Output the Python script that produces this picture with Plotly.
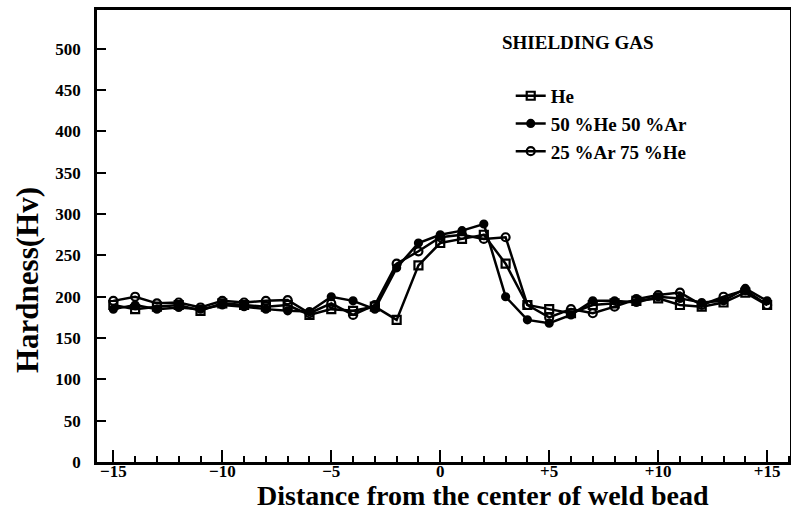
import plotly.graph_objects as go

distance = list(range(-15, 16))

hv_he = [190, 185, 188, 190, 183, 192, 190, 188, 190, 178, 185, 183, 188, 172, 238,
         265, 270, 275, 240, 190, 185, 180, 190, 192, 195, 198, 190, 188, 193, 205, 190]
hv_50he_50ar = [185, 190, 185, 187, 185, 190, 188, 185, 183, 182, 200, 195, 185, 235, 265,
                275, 280, 288, 200, 172, 168, 178, 195, 195, 193, 200, 198, 193, 195, 210, 195]
hv_25ar_75he = [195, 200, 192, 193, 187, 195, 193, 195, 196, 180, 192, 178, 190, 240, 255,
                272, 275, 270, 272, 190, 175, 185, 180, 188, 197, 202, 205, 190, 200, 208, 190]

series_names = ["He", "50 %He 50 %Ar", "25 %Ar 75 %He"]
x_tickvals = [-15, -10, -5, 0, 5, 10, 15]
x_ticktext = ["−15", "−10", "−5", "0", "+5", "+10", "+15"]
y_tickvals = list(range(0, 501, 50))

serif = "Liberation Serif"

fig = go.Figure()
styles = [
    dict(symbol="square-open", size=8),
    dict(symbol="circle", size=7),
    dict(symbol="circle-open", size=8),
]
for name, vals, st in zip(series_names, [hv_he, hv_50he_50ar, hv_25ar_75he], styles):
    fig.add_trace(go.Scatter(
        x=distance, y=vals, mode="lines+markers", name=name,
        line=dict(color="black", width=2.5),
        marker=dict(color="black", symbol=st["symbol"], size=st["size"],
                    line=dict(color="black", width=2.2)),
    ))

# plot area: x 97..790, y 10..462
fig.update_layout(
    width=791, height=520,
    margin=dict(l=97, r=1, t=10, b=58),
    paper_bgcolor="white", plot_bgcolor="white",
    font=dict(family=serif, color="black"),
    showlegend=True,
    legend=dict(x=0.597, y=0.852, xanchor="left", yanchor="top",
                bgcolor="rgba(0,0,0,0)", font=dict(size=19, family=serif, weight="bold"),
                itemwidth=30),
    annotations=[
        dict(text="<b>SHIELDING GAS</b>", xref="paper", yref="paper",
             x=(500 - 97) / 693, y=(462 - 43) / 452, xanchor="left", yanchor="middle",
             showarrow=False, font=dict(size=19, family=serif)),
        dict(text="<b>Distance from the center of weld bead</b>", xref="paper", yref="paper",
             x=(483 - 97) / 693, y=-(495 - 462) / 452, xanchor="center", yanchor="middle",
             showarrow=False, font=dict(size=28, family=serif)),
        dict(text="<b>Hardness(Hv)</b>", xref="paper", yref="paper",
             x=(28 - 97) / 693, y=(462 - 280) / 452, xanchor="center", yanchor="middle",
             textangle=-90, showarrow=False, font=dict(size=31, family=serif)),
    ],
)

fig.update_xaxes(
    range=[-15.75, 16.05], tickvals=x_tickvals, ticktext=x_ticktext,
    ticks="inside", ticklen=12, tickwidth=2, tickcolor="black",
    minor=dict(dtick=1, ticks="inside", ticklen=6, tickwidth=1.5, tickcolor="black"),
    showline=True, linecolor="black", linewidth=2.5, mirror=True,
    showgrid=False, zeroline=False, automargin=False, ticklabelstandoff=-8,
    tickfont=dict(size=17, family=serif, weight="bold"),
)
fig.update_yaxes(
    range=[0, 547], tickvals=y_tickvals,
    ticks="inside", ticklen=9, tickwidth=2, tickcolor="black",
    showline=True, linecolor="black", linewidth=2.5, mirror=True,
    showgrid=False, zeroline=False, ticklabelstandoff=10, automargin=False,
    tickfont=dict(size=17, family=serif, weight="bold"),
)

fig.write_html(
    "out.html",
    config={"displayModeBar": False},
    post_script="document.body.style.margin='0';"
                "document.body.style.overflow='hidden';"
                "document.documentElement.style.overflow='hidden';",
)
